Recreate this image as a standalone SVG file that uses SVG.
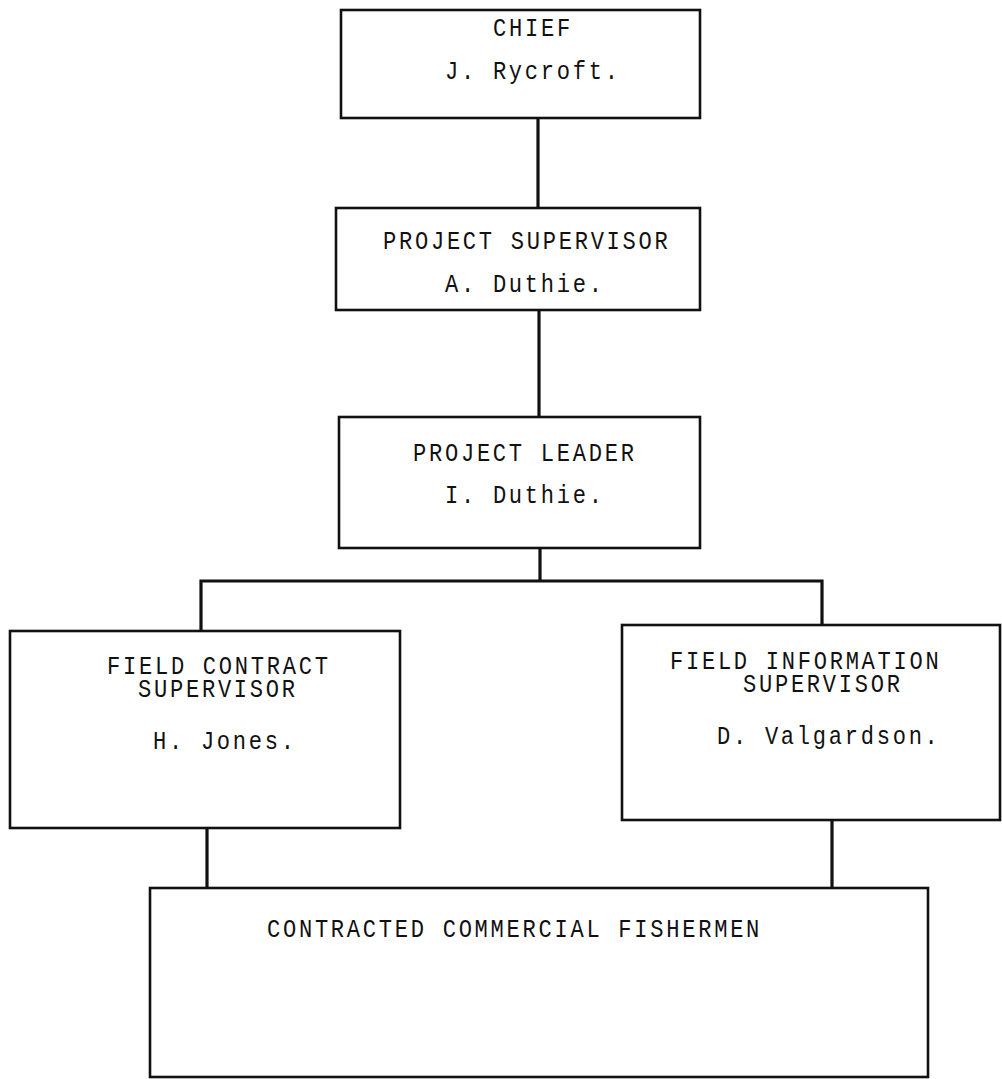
<svg xmlns="http://www.w3.org/2000/svg" width="1002" height="1079" viewBox="0 0 1002 1079">
<style>
.box{fill:#fff;stroke:#111;stroke-width:2.6}
.con{fill:none;stroke:#111;stroke-width:3.2;stroke-linejoin:miter}
text{font-family:"Liberation Mono","DejaVu Sans Mono",monospace;font-size:26px;letter-spacing:3.2px;fill:#111}
</style>
<rect width="1002" height="1079" fill="#fff"/>
<g id="connectors">
<path class="con" d="M538 118V208"/>
<path class="con" d="M539 310V417"/>
<path class="con" d="M540 548V581M201 631V581H822V625"/>
<path class="con" d="M207 828V888"/>
<path class="con" d="M832 820V888"/>
</g>
<g id="chief"><rect class="box" x="341" y="10" width="359" height="108"/>
<g transform="scale(0.85 1)"><text x="580" y="36">CHIEF</text><text x="523.5" y="79">J. Rycroft.</text></g></g>
<g id="project-supervisor"><rect class="box" x="336" y="208" width="364" height="102"/>
<g transform="scale(0.85 1)"><text x="450.6" y="249">PROJECT SUPERVISOR</text><text x="523.5" y="292">A. Duthie.</text></g></g>
<g id="project-leader"><rect class="box" x="339" y="417" width="361" height="131"/>
<g transform="scale(0.85 1)"><text x="485.9" y="461">PROJECT LEADER</text><text x="523.5" y="503">I. Duthie.</text></g></g>
<g id="field-contract"><rect class="box" x="10" y="631" width="390" height="197"/>
<g transform="scale(0.85 1)"><text><tspan x="125.9" y="674">FIELD CONTRACT</tspan><tspan x="162.4" y="697">SUPERVISOR</tspan></text><text x="180" y="749">H. Jones.</text></g></g>
<g id="field-information"><rect class="box" x="622" y="625" width="378" height="195"/>
<g transform="scale(0.85 1)"><text><tspan x="788.2" y="669">FIELD INFORMATION</tspan><tspan x="874.1" y="692">SUPERVISOR</tspan></text><text x="843.5" y="744">D. Valgardson.</text></g></g>
<g id="fishermen"><rect class="box" x="150" y="888" width="778" height="189"/>
<g transform="scale(0.85 1)"><text x="314.1" y="937">CONTRACTED COMMERCIAL FISHERMEN</text></g></g>
</svg>
